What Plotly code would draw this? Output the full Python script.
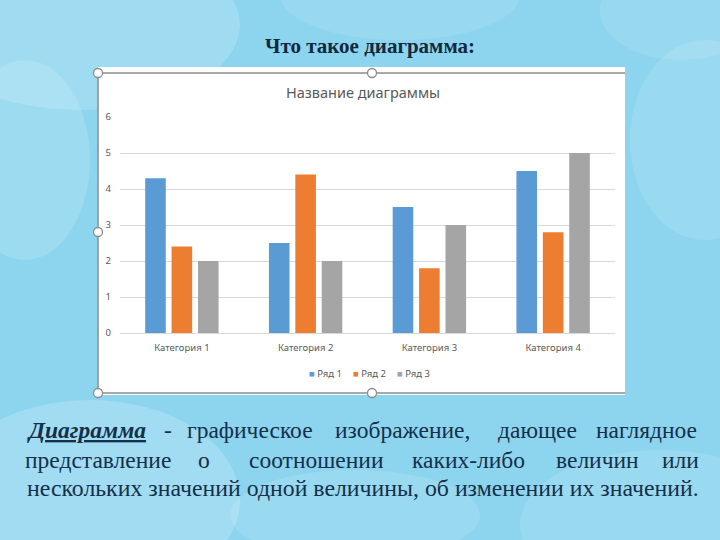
import plotly.graph_objects as go

categories = ["Категория 1", "Категория 2", "Категория 3", "Категория 4"]
series_names = ["Ряд 1", "Ряд 2", "Ряд 3"]
row1 = [4.3, 2.5, 3.5, 4.5]
row2 = [2.4, 4.4, 1.8, 2.8]
row3 = [2.0, 2.0, 3.0, 5.0]
colors = ["#5b9bd5", "#ed7d31", "#a5a5a5"]
y_ticks = [0, 1, 2, 3, 4, 5, 6]

slide_title = "Что такое диаграмма:"
chart_title = "Название диаграммы"
line1_words = ["<b><i><u>Диаграмма</u></i></b>", "-", "графическое", "изображение,", "дающее", "наглядное"]
line2_words = ["представление", "о", "соотношении", "каких-либо", "величин", "или"]
line3_text = "нескольких значений одной величины, об изменении их значений."

W, H = 720, 540
PL, PR, PT, PB = 120, 615, 117, 333


def px(x):
    return (x - PL) / (PR - PL)


def py(y):
    return (PB - y) / (PB - PT)


fig = go.Figure()
for name, vals, col in zip(series_names, [row1, row2, row3], colors):
    fig.add_trace(go.Bar(x=categories, y=vals, name=name, marker_color=col,
                         marker_line_width=0, showlegend=False))

shapes = []
# soft, faint clouds on the sky background
clouds = [
    (-80, -60, 240, 110, 0.16), (-60, 400, 240, 600, 0.18), (520, 450, 800, 600, 0.12),
    (280, -50, 520, 40, 0.10), (630, 40, 780, 240, 0.12), (-40, 60, 90, 260, 0.14),
    (230, 470, 480, 560, 0.12), (600, -40, 760, 60, 0.10),
]
for x0, y0, x1, y1, op in clouds:
    shapes.append(dict(type="circle", xref="paper", yref="paper",
                       x0=px(x0), x1=px(x1), y0=py(y1), y1=py(y0),
                       fillcolor="white", opacity=op, line_width=0, layer="below"))
# white chart box
shapes.append(dict(type="rect", xref="paper", yref="paper",
                   x0=px(98), x1=px(625), y0=py(395), y1=py(67),
                   fillcolor="white", line_width=0, layer="below"))
# selection frame
border = "#8c8c8c"
for (x0, y0, x1, y1) in [(98, 73, 625, 73), (98, 393, 625, 393), (98, 73, 98, 393)]:
    shapes.append(dict(type="line", xref="paper", yref="paper",
                       x0=px(x0), x1=px(x1), y0=py(y0), y1=py(y1),
                       line=dict(color=border, width=1.5), layer="above"))
for (cx, cy) in [(98, 73), (372, 73), (98, 232), (98, 393), (372, 393)]:
    r = 4.5
    shapes.append(dict(type="circle", xref="paper", yref="paper",
                       x0=px(cx - r), x1=px(cx + r), y0=py(cy + r), y1=py(cy - r),
                       fillcolor="white", line=dict(color=border, width=1.3), layer="above"))

annotations = []
annotations.append(dict(text="<b>" + slide_title + "</b>", x=px(370), y=py(46),
                        xref="paper", yref="paper", showarrow=False,
                        xanchor="center", yanchor="middle",
                        font=dict(family="Liberation Serif", size=21, color="#14283e")))

text_font = dict(family="Liberation Serif", size=23.5, color="#15304a")
l1_centers = [86, 168, 250, 402, 537, 646]
for w, cx in zip(line1_words, l1_centers):
    annotations.append(dict(text=w, x=px(cx), y=py(430), xref="paper", yref="paper",
                            showarrow=False, xanchor="center", yanchor="middle", font=text_font))
l2_centers = [98, 204, 316, 468, 597, 680]
for w, cx in zip(line2_words, l2_centers):
    annotations.append(dict(text=w, x=px(cx), y=py(460), xref="paper", yref="paper",
                            showarrow=False, xanchor="center", yanchor="middle", font=text_font))
annotations.append(dict(text=line3_text, x=px(25), y=py(488), xref="paper", yref="paper",
                        showarrow=False, xanchor="left", yanchor="middle",
                        font=dict(family="Liberation Serif", size=23.8, color="#15304a")))

# legend entries
legend_x = [325, 369, 413]
for name, col, cx in zip(series_names, colors, legend_x):
    annotations.append(dict(text="<span style='color:%s'>■</span> %s" % (col, name),
                            x=px(cx), y=py(373), xref="paper", yref="paper",
                            showarrow=False, xanchor="center", yanchor="middle",
                            font=dict(family="Noto Sans", size=9.5, color="#595959")))

fig.update_layout(
    width=W, height=H,
    margin=dict(l=PL, r=W - PR, t=PT, b=H - PB, pad=0),
    paper_bgcolor="#8dd5ef",
    plot_bgcolor="rgba(0,0,0,0)",
    showlegend=False,
    barmode="group", bargap=0.36, bargroupgap=0.22,
    title=dict(text=chart_title, x=px(363), xref="paper", xanchor="center",
               y=1 - 93 / H, yanchor="middle",
               font=dict(family="Noto Sans", size=14.5, color="#595959")),
    xaxis=dict(range=[-0.5, 3.5], showgrid=False, showline=True, linecolor="#d9d9d9",
               linewidth=1, ticks="", tickfont=dict(family="Noto Sans", size=9.5, color="#595959"),
               ticklabelstandoff=6),
    yaxis=dict(range=[0, 6], tickvals=y_ticks, showgrid=True, gridcolor="#d9d9d9",
               gridwidth=1, zeroline=False, showline=False, ticks="",
               tickfont=dict(family="Noto Sans", size=9.5, color="#595959"),
               ticklabelstandoff=8),
    shapes=shapes,
    annotations=annotations,
)

fig.write_html("out.html")
